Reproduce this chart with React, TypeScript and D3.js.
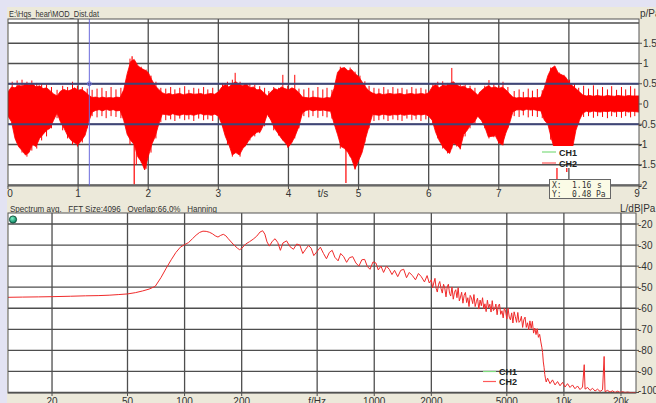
import React from 'react';
import * as d3 from 'd3';

const W = 656;
const H = 403;
const FONT = "'Liberation Sans', Arial, sans-serif";

// ---------- Top panel: oscillogram (envelope sampled every 0.05 s) ----------
const T_STEP = 0.05;
const waveUpper = [
  // 0.00 - 2.95
  0.30, 0.42, 0.40, 0.46, 0.44, 0.50, 0.47, 0.50, 0.42, 0.45,
  0.38, 0.40, 0.33, 0.25, 0.20, 0.32, 0.36, 0.32, 0.35, 0.40,
  0.34, 0.36, 0.30, 0.22, 0.16, 0.17, 0.15, 0.17, 0.15, 0.16,
  0.15, 0.17, 0.16, 0.35, 0.75, 1.05, 1.10, 0.95, 0.88, 0.84,
  0.78, 0.60, 0.45, 0.36, 0.28, 0.24, 0.26, 0.23, 0.25, 0.26,
  0.23, 0.25, 0.26, 0.24, 0.25, 0.26, 0.23, 0.25, 0.26, 0.24,
  // 3.00 - 5.95
  0.30, 0.42, 0.48, 0.42, 0.50, 0.55, 0.48, 0.45, 0.50, 0.40,
  0.42, 0.35, 0.36, 0.28, 0.20, 0.30, 0.38, 0.35, 0.42, 0.38,
  0.35, 0.40, 0.36, 0.28, 0.17, 0.16, 0.15, 0.17, 0.16, 0.15,
  0.14, 0.16, 0.15, 0.38, 0.78, 0.88, 0.90, 0.82, 0.85, 0.75,
  0.68, 0.55, 0.42, 0.32, 0.27, 0.24, 0.26, 0.23, 0.25, 0.26,
  0.24, 0.25, 0.26, 0.23, 0.25, 0.26, 0.24, 0.25, 0.26, 0.24,
  // 6.00 - 8.95
  0.28, 0.42, 0.48, 0.40, 0.46, 0.45, 0.50, 0.55, 0.48, 0.42,
  0.44, 0.38, 0.38, 0.30, 0.22, 0.33, 0.40, 0.45, 0.40, 0.42,
  0.38, 0.42, 0.35, 0.26, 0.17, 0.15, 0.16, 0.15, 0.16, 0.15,
  0.16, 0.15, 0.17, 0.40, 0.70, 0.88, 0.94, 0.76, 0.72, 0.67,
  0.55, 0.45, 0.38, 0.30, 0.22, 0.20, 0.21, 0.19, 0.21, 0.20,
  0.19, 0.21, 0.20, 0.19, 0.21, 0.20, 0.19, 0.21, 0.20, 0.20,
  // 9.00
  0.20,
];
const waveLower = [
  // 0.00 - 2.95
  -0.30, -0.44, -0.85, -1.05, -1.15, -1.26, -1.20, -1.00, -1.05, -0.85,
  -0.75, -0.65, -0.60, -0.40, -0.22, -0.45, -0.60, -0.78, -0.90, -0.96,
  -1.00, -0.90, -0.77, -0.45, -0.20, -0.16, -0.14, -0.17, -0.13, -0.16,
  -0.14, -0.17, -0.16, -0.40, -0.75, -0.90, -1.00, -1.30, -1.42, -1.63,
  -1.30, -1.00, -0.80, -0.50, -0.25, -0.26, -0.28, -0.24, -0.27, -0.28,
  -0.25, -0.27, -0.26, -0.28, -0.25, -0.24, -0.27, -0.26, -0.28, -0.25,
  // 3.00 - 5.95
  -0.30, -0.50, -0.80, -1.00, -1.26, -1.20, -1.26, -1.10, -1.00, -0.85,
  -0.77, -0.70, -0.68, -0.50, -0.25, -0.40, -0.60, -0.72, -0.85, -0.95,
  -1.06, -0.95, -0.77, -0.55, -0.22, -0.16, -0.14, -0.17, -0.15, -0.16,
  -0.15, -0.17, -0.18, -0.48, -0.75, -1.05, -1.10, -1.20, -1.35, -1.60,
  -1.40, -1.20, -0.85, -0.55, -0.26, -0.27, -0.28, -0.25, -0.27, -0.28,
  -0.26, -0.27, -0.25, -0.28, -0.26, -0.25, -0.28, -0.26, -0.27, -0.25,
  // 6.00 - 8.95
  -0.30, -0.40, -0.70, -0.90, -1.05, -1.15, -1.22, -0.97, -1.00, -1.10,
  -0.75, -0.65, -0.50, -0.45, -0.30, -0.40, -0.56, -0.81, -0.80, -0.78,
  -0.95, -1.01, -0.72, -0.50, -0.20, -0.15, -0.14, -0.16, -0.13, -0.15,
  -0.14, -0.16, -0.17, -0.40, -0.50, -0.85, -1.15, -1.30, -1.40, -1.55,
  -1.35, -1.10, -0.65, -0.40, -0.22, -0.18, -0.20, -0.17, -0.19, -0.20,
  -0.18, -0.19, -0.17, -0.20, -0.18, -0.19, -0.17, -0.20, -0.18, -0.19,
  // 9.00
  -0.20,
];
// glottal-like pulses seen as thin strokes: [time s, top Pa, bottom Pa]
const pulses: [number, number, number][] = [
  [0.06, 0.55, -0.5], [0.13, 0.58, -0.95], [0.2, 0.6, -1.2], [0.27, 0.55, -1.3], [0.34, 0.58, -1.15],
  [0.41, 0.52, -1.1], [0.48, 0.5, -0.9], [0.55, 0.48, -0.8], [0.62, 0.42, -0.6], [0.7, 0.35, -0.35],
  [0.78, 0.45, -0.65], [0.85, 0.42, -0.85], [0.92, 0.55, -1.0], [0.99, 0.45, -1.05], [1.06, 0.42, -0.95],
  [1.13, 0.38, -0.6], [1.2, 0.35, -0.3], [1.27, 0.38, -0.33], [1.34, 0.4, -0.3], [1.4, 0.32, -0.35],
  [1.47, 0.42, -0.3], [1.54, 0.36, -0.32], [1.61, 0.4, -0.35], [1.74, 1.12, -1.0], [1.83, 0.98, -1.5],
  [1.9, 0.92, -1.45], [1.97, 0.85, -1.6], [2.04, 0.7, -1.2], [2.11, 0.55, -0.85], [2.18, 0.4, -0.45],
  [2.25, 0.38, -0.4], [2.32, 0.42, -0.38], [2.38, 0.36, -0.42], [2.45, 0.4, -0.36], [2.52, 0.44, -0.4],
  [2.58, 0.35, -0.38], [2.65, 0.4, -0.42], [2.72, 0.38, -0.36], [2.79, 0.42, -0.4], [2.85, 0.36, -0.38],
  [2.92, 0.4, -0.42],
  [3.06, 0.52, -0.55], [3.13, 0.55, -1.0], [3.2, 0.6, -1.3], [3.24, 0.77, -1.2], [3.31, 0.55, -1.3],
  [3.38, 0.5, -1.05], [3.45, 0.52, -0.9], [3.52, 0.48, -0.8], [3.59, 0.44, -0.72], [3.66, 0.4, -0.55],
  [3.72, 0.32, -0.32], [3.79, 0.42, -0.65], [3.86, 0.4, -0.78], [3.92, 0.72, -0.9], [3.99, 0.45, -1.08],
  [4.09, 0.72, -0.85], [4.15, 0.38, -0.6], [4.22, 0.36, -0.3], [4.29, 0.4, -0.33], [4.35, 0.33, -0.3],
  [4.42, 0.42, -0.34], [4.49, 0.36, -0.3], [4.55, 0.4, -0.33], [4.62, 0.35, -0.36], [4.74, 0.92, -1.1],
  [4.88, 0.9, -1.3], [4.95, 0.8, -1.62], [5.02, 0.7, -1.3], [5.09, 0.56, -0.95], [5.15, 0.45, -0.6],
  [5.22, 0.4, -0.42], [5.29, 0.38, -0.4], [5.36, 0.42, -0.38], [5.42, 0.36, -0.42], [5.49, 0.42, -0.38],
  [5.56, 0.38, -0.4], [5.62, 0.4, -0.42], [5.69, 0.36, -0.36], [5.76, 0.42, -0.4], [5.82, 0.38, -0.38],
  [5.89, 0.4, -0.42], [5.96, 0.36, -0.38],
  [6.06, 0.5, -0.5], [6.13, 0.55, -0.85], [6.2, 0.56, -1.1], [6.27, 0.52, -1.22], [6.33, 0.89, -1.1],
  [6.4, 0.5, -1.05], [6.45, 0.52, -1.12], [6.52, 0.48, -0.8], [6.59, 0.45, -0.6], [6.66, 0.4, -0.5],
  [6.73, 0.3, -0.35], [6.8, 0.45, -0.6], [6.86, 0.59, -0.85], [6.93, 0.5, -0.82], [7.0, 0.45, -0.98],
  [7.06, 0.55, -1.02], [7.13, 0.42, -0.6], [7.22, 0.32, -0.3], [7.29, 0.36, -0.32], [7.35, 0.3, -0.28],
  [7.42, 0.38, -0.33], [7.48, 0.33, -0.3], [7.55, 0.37, -0.32], [7.62, 0.34, -0.35], [7.74, 0.9, -0.88],
  [7.86, 0.78, -1.3], [7.93, 0.72, -1.5], [8.01, 0.6, -1.3], [8.08, 0.5, -0.8], [8.14, 0.4, -0.5],
  [8.21, 0.45, -0.32], [8.28, 0.38, -0.3], [8.35, 0.46, -0.34], [8.41, 0.36, -0.3], [8.48, 0.42, -0.32],
  [8.55, 0.36, -0.35], [8.61, 0.44, -0.3], [8.68, 0.35, -0.32], [8.75, 0.42, -0.34], [8.81, 0.36, -0.3],
  [8.88, 0.44, -0.33], [8.94, 0.38, -0.3],
];
// isolated deep spikes
const spikeTimes = [1.77, 1.8, 4.82, 7.83, 7.97];
const spikeValues = [1.18, -1.98, -1.95, -1.88, -1.68];

const topXTicks = [0, 1, 2, 3, 4, 5, 6, 7, 8, 9];
const topYTicks = [-2, -1.5, -1, -0.5, 0, 0.5, 1, 1.5, 2];
const topYLabels = ['-2', '-1.5', '-1', '-0.5', '0', '0.5', '1', '1.5', ''];
const markerLevels = [-0.5, 0.5];
const cursorTime = 1.16;
const cursorReadX = '1.16';
const cursorReadY = '0.48';

// ---------- Bottom panel: averaged spectrum [Hz, dB] ----------
const spectrum: [number, number][] = [
  [11.72, -54.8], [14, -54.7], [17, -54.6], [20, -54.5], [25, -54.3], [30, -54.1],
  [35, -54.0], [40, -53.8], [45, -53.5], [50, -53.2], [55, -52.6], [60, -51.8],
  [65, -50.9], [70, -49.6], [75, -45.5], [80, -41], [85, -37], [90, -33.5],
  [95, -31], [100, -29.8], [105, -28.8], [110, -27], [115, -25.3], [120, -24],
  [125, -23.4], [130, -23.5], [135, -23.9], [140, -24.6], [145, -25.6], [150, -26.2],
  [155, -25.4], [160, -24.9], [165, -25.6], [170, -27], [180, -29.5], [190, -31.5],
  [195, -32.2], [200, -31.6], [210, -29.5], [220, -28.4], [230, -27.2], [240, -25.8],
  [250, -23.8], [258, -23.2], [265, -24.8], [272, -28.5], [280, -30.5], [290, -28.2],
  [300, -27], [310, -28.8], [320, -32.5], [330, -29], [345, -28], [360, -30.8],
  [375, -32], [390, -29.5], [405, -30], [420, -34], [435, -32], [450, -30.2],
  [465, -31.5], [480, -35], [500, -33], [520, -31], [540, -34], [560, -36.5],
  [580, -33.5], [600, -32.5], [620, -35.8], [645, -37.5], [665, -34], [690, -35.5],
  [715, -38.2], [740, -36], [770, -35.5], [800, -38.5], [830, -40], [860, -37],
  [890, -36.8], [920, -40.2], [950, -41.5], [985, -38], [1020, -38.5], [1050, -41.8],
  [1085, -40], [1120, -43], [1160, -40], [1200, -41.5], [1240, -44], [1280, -42],
  [1330, -45], [1380, -42], [1430, -41.5], [1480, -45.5], [1530, -43], [1590, -44.5],
  [1650, -46.5], [1710, -43.5], [1770, -45], [1840, -47.5], [1900, -44.5], [1950, -48],
  [2000, -46.5], [2030, -50.3], [2060, -48.0], [2090, -45.8], [2120, -50.5], [2150, -52.3],
  [2185, -48.6], [2215, -47.3], [2250, -50.6], [2285, -52.8], [2320, -48.6], [2355, -50.4],
  [2390, -54.6], [2425, -49.9], [2460, -48.6], [2495, -52.9], [2530, -54.2], [2570, -49.9],
  [2610, -55.7], [2650, -52.4], [2690, -51.2], [2730, -55.0], [2770, -50.2], [2810, -56.5],
  [2850, -54.7], [2890, -52.4], [2935, -57.6], [2980, -53.8], [3025, -52.5], [3070, -57.3],
  [3115, -55.0], [3160, -59.2], [3205, -53.9], [3255, -55.1], [3305, -57.8], [3355, -53.5],
  [3405, -59.2], [3455, -56.9], [3505, -55.2], [3560, -60.4], [3615, -56.1], [3670, -58.8],
  [3725, -55.0], [3780, -60.2], [3835, -57.9], [3890, -61.6], [3950, -56.2], [4010, -59.9],
  [4070, -58.1], [4130, -61.8], [4190, -56.4], [4250, -61.1], [4315, -60.3], [4380, -58.0],
  [4445, -63.1], [4510, -58.8], [4575, -58.0], [4645, -62.9], [4715, -61.2], [4785, -64.6],
  [4855, -59.9], [4925, -61.3], [5000, -65.1], [5075, -60.0], [5150, -64.2], [5225, -65.5],
  [5305, -62.2], [5385, -67.0], [5465, -61.7], [5545, -64.0], [5630, -66.7], [5715, -62.0],
  [5800, -66.7], [5885, -66.0], [5970, -63.8], [6060, -69.1], [6150, -65.4], [6240, -64.2],
  [6335, -69.1], [6430, -66.9], [6525, -70.2], [6620, -66.0], [6720, -69.6], [6820, -66.2],
  [6920, -71.8], [7025, -69.4], [7130, -72.5], [7235, -69.7], [7340, -73.8], [7450, -72.4],
  [7560, -76.0], [7650, -78.5], [7720, -81], [7790, -85.5], [7860, -88], [7930, -91.5],
  [8000, -93.5], [8070, -95], [8200, -93.2], [8450, -95.8], [8710, -94], [8980, -96.4],
  [9260, -94.8], [9540, -96.8], [9840, -95.2], [10140, -97.4], [10450, -95.8], [10770, -97.6],
  [11100, -96.4], [11440, -98.2], [11800, -96.9], [12160, -98.6], [12540, -97.4], [12800, -86.8],
  [12930, -98.4], [13330, -97.6], [13740, -99], [14160, -98], [14600, -99.3], [15050, -98.4],
  [15510, -99.5], [15990, -98.7], [16300, -82.9], [16480, -99.6], [16990, -99], [17510, -99.8],
  [18050, -99.2], [18610, -100], [19180, -99.4], [19770, -100], [20380, -99.6], [21010, -100],
  [21660, -99.8], [22330, -100], [23020, -100], [24000, -100],
];
const botXTicks = [20, 50, 100, 200, 500, 1000, 2000, 5000, 10000, 20000];
const botXLabels = ['20', '50', '100', '200', 'f/Hz', '1000', '2000', '5000', '10k', '20k'];
const botYTicks = [-20, -30, -40, -50, -60, -70, -80, -90, -100];

const legendNames = ['CH1', 'CH2'];
const legendColors = ['#7fdc7f', '#ff5a5a'];

const BEIGE = '#ece9da';
const LAVENDER = '#e3e3f3';
const GRID = '#4e4e4e';
const TXT = '#333';

export default function App() {
  const tx = d3.scaleLinear().domain([0, 9]).range([8, 639]);
  const ty = d3.scaleLinear().domain([-2, 2]).range([185, 23]);
  const TOP = { l: 8, r: 639, t: 19, b: 186 };

  const waveArea = d3
    .area<number>()
    .x((_, i) => tx(i * T_STEP))
    .y0((_, i) => ty(waveLower[i]))
    .y1((d) => ty(d))
    .curve(d3.curveLinear);
  const wavePath = waveArea(waveUpper) || '';

  const fx = d3.scaleLog().domain([48000 / 4096, 24000]).range([8, 636]);
  const fy = d3.scaleLinear().domain([-100, -20]).range([392.5, 224]);
  const BOT = { l: 8, r: 636, t: 213, b: 393 };
  const specLine = d3
    .line<[number, number]>()
    .x((d) => fx(d[0]))
    .y((d) => fy(d[1]));
  const specPath = specLine(spectrum) || '';

  const legTop = { x: 538, y: 146, w: 52, h: 22 };

  return (
    <svg
      width={W}
      height={H}
      viewBox={`0 0 ${W} ${H}`}
      style={{ position: 'absolute', left: 0, top: 0, display: 'block' }}
      fontFamily={FONT}
    >
      <defs>
        <clipPath id="topClip">
          <rect x={TOP.l} y={TOP.t} width={TOP.r - TOP.l} height={TOP.b - TOP.t} />
        </clipPath>
        <clipPath id="botClip">
          <rect x={BOT.l} y={BOT.t} width={BOT.r - BOT.l} height={BOT.b - BOT.t} />
        </clipPath>
        <radialGradient id="dotGrad" cx="40%" cy="35%" r="60%">
          <stop offset="0%" stopColor="#7ff0c8" />
          <stop offset="100%" stopColor="#0e8a66" />
        </radialGradient>
      </defs>

      <rect x={0} y={0} width={W} height={H} fill={BEIGE} />
      <rect x={0} y={0} width={W} height={7} fill={LAVENDER} />
      <rect x={0} y={0} width={7} height={H} fill={LAVENDER} />

      {/* ---------------- TOP PANEL ---------------- */}
      <text x={9} y={16.5} fontSize={9} fill={TXT} textLength={90} lengthAdjust="spacingAndGlyphs">
        {'E:\\Hqs_hear\\MOD_Dist.dat'}
      </text>
      <text x={640} y={16.5} fontSize={10} fill={TXT}>p/Pa</text>

      <rect x={TOP.l} y={TOP.t} width={TOP.r - TOP.l} height={TOP.b - TOP.t} fill="#fff" />
      <g stroke={GRID} strokeWidth={1.3}>
        {topYTicks.map((v) => (
          <line key={'hy' + v} x1={TOP.l} x2={TOP.r} y1={ty(v)} y2={ty(v)} />
        ))}
        {topXTicks.slice(1, -1).map((t) => (
          <line key={'vx' + t} x1={tx(t)} x2={tx(t)} y1={TOP.t} y2={TOP.b} />
        ))}
      </g>
      <g clipPath="url(#topClip)">
        <path d={wavePath} fill="#ff0000" stroke="#ff0000" strokeWidth={0.8} />
        {pulses.map((p, i) => (
          <line key={'pu' + i} x1={tx(p[0])} x2={tx(p[0])} y1={ty(p[1])} y2={ty(p[2])} stroke="#ff0000" strokeWidth={1} />
        ))}
        {spikeTimes.map((t, i) => (
          <line key={'sp' + i} x1={tx(t)} x2={tx(t)} y1={ty(0)} y2={ty(spikeValues[i])} stroke="#ff0000" strokeWidth={1.2} />
        ))}
      </g>
      {markerLevels.map((v) => (
        <line key={'m' + v} x1={TOP.l} x2={TOP.r} y1={ty(v)} y2={ty(v)} stroke="#3f4678" strokeWidth={2} />
      ))}
      <line x1={tx(cursorTime)} x2={tx(cursorTime)} y1={TOP.t} y2={TOP.b} stroke="#6c6cdc" strokeWidth={1} />
      <circle cx={tx(cursorTime)} cy={ty(0.5)} r={2} fill="none" stroke="#6c6cdc" strokeWidth={1} />

      <rect x={legTop.x} y={legTop.y} width={legTop.w} height={legTop.h} fill="#fff" />
      <line x1={legTop.x} x2={legTop.x + legTop.w} y1={ty(-1.5)} y2={ty(-1.5)} stroke={GRID} strokeWidth={1.3} />
      {legendNames.map((n, i) => (
        <g key={'lt' + n}>
          <line x1={542} x2={556} y1={152 + i * 11} y2={152 + i * 11} stroke={legendColors[i]} strokeWidth={1.2} />
          <text x={559} y={155.5 + i * 11} fontSize={9} fill="#222" fontWeight="bold">{n}</text>
        </g>
      ))}

      <rect x={TOP.l} y={TOP.t} width={TOP.r - TOP.l} height={TOP.b - TOP.t} fill="none" stroke="#555" strokeWidth={1} />

      {topXTicks.map((t) => (
        <g key={'xt' + t}>
          <line x1={tx(t)} x2={tx(t)} y1={TOP.b} y2={TOP.b + 3} stroke={GRID} />
          <text x={tx(t) + (t === 0 ? 2 : t === 9 ? -2 : 0)} y={197} fontSize={10} fill={TXT} textAnchor="middle">
            {t}
          </text>
        </g>
      ))}
      <text x={323} y={197} fontSize={10} fill={TXT} textAnchor="middle">t/s</text>

      {topYTicks.map((v, i) =>
        topYLabels[i] ? (
          <g key={'yl' + v}>
            <line x1={TOP.r} x2={TOP.r + 3} y1={ty(v)} y2={ty(v)} stroke={GRID} />
            <text x={v < 0 ? 638.5 : 643} y={ty(v) + 3.5} fontSize={10} fill={TXT}>
              {topYLabels[i]}
            </text>
          </g>
        ) : null
      )}

      <rect x={549.5} y={179.5} width={61} height={19} fill="#fbfbe6" stroke="#666" strokeWidth={1} />
      <g fontFamily="'DejaVu Sans Mono', monospace" fontSize={8} fill="#333">
        <text x={552} y={187.5}>X:</text>
        <text x={572} y={187.5}>{cursorReadX}</text>
        <text x={597} y={187.5}>s</text>
        <text x={552} y={196.5}>Y:</text>
        <text x={572} y={196.5}>{cursorReadY}</text>
        <text x={596} y={196.5}>Pa</text>
      </g>

      {/* ---------------- BOTTOM PANEL ---------------- */}
      <text x={10} y={211.5} fontSize={9} fill={TXT} textLength={207} lengthAdjust="spacingAndGlyphs" xmlSpace="preserve">
        {'Spectrum avg.   FFT Size:4096   Overlap:66,0%   Hanning'}
      </text>
      <text x={620} y={211.5} fontSize={10} fill={TXT}>L/dB|Pa</text>

      <rect x={BOT.l} y={BOT.t} width={BOT.r - BOT.l} height={BOT.b - BOT.t} fill="#fff" />
      <g stroke={GRID} strokeWidth={1.3}>
        {botYTicks.map((v) => (
          <line key={'bh' + v} x1={BOT.l} x2={BOT.r} y1={fy(v)} y2={fy(v)} />
        ))}
        {botXTicks.map((f) => (
          <line key={'bv' + f} x1={fx(f)} x2={fx(f)} y1={BOT.t} y2={BOT.b} />
        ))}
      </g>
      <g clipPath="url(#botClip)">
        <path d={specPath} fill="none" stroke="#f02a2a" strokeWidth={1} strokeLinejoin="round" />
      </g>
      {legendNames.map((n, i) => (
        <g key={'lb' + n}>
          <line x1={483} x2={496} y1={371.5 + i * 10} y2={371.5 + i * 10} stroke={legendColors[i]} strokeWidth={1.2} />
          <text x={499} y={375 + i * 10} fontSize={9} fill="#222" fontWeight="bold">{n}</text>
        </g>
      ))}
      <rect x={BOT.l} y={BOT.t} width={BOT.r - BOT.l} height={BOT.b - BOT.t} fill="none" stroke="#555" strokeWidth={1} />
      <circle cx={13} cy={219.5} r={3.6} fill="url(#dotGrad)" stroke="#0b4a36" strokeWidth={0.9} />

      {botXTicks.map((f, i) => (
        <g key={'bx' + f}>
          <line x1={fx(f)} x2={fx(f)} y1={BOT.b} y2={BOT.b + 3} stroke={GRID} />
          <text x={fx(f)} y={405} fontSize={10} fill={TXT} textAnchor="middle">
            {botXLabels[i]}
          </text>
        </g>
      ))}
      {botYTicks.map((v) => (
        <g key={'by' + v}>
          <line x1={BOT.r} x2={BOT.r + 3} y1={fy(v)} y2={fy(v)} stroke={GRID} />
          <text x={638} y={fy(v) + 3.5 - (v === -100 ? 2 : 0)} fontSize={10} fill={TXT}>
            {v}
          </text>
        </g>
      ))}
    </svg>
  );
}
